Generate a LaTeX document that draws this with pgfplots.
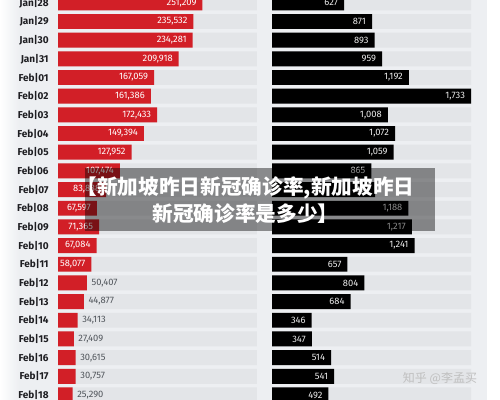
\documentclass[border=0pt]{standalone}
\usepackage{pgfplots}
\pgfplotsset{compat=1.18}
\usepackage{pgfplotstable}
\usepackage{fontspec}
\setmainfont{Fira Sans}
\newfontfamily\cjk{Noto Sans CJK SC}
\definecolor{panel}{HTML}{EDEFF2}
\definecolor{stripe}{HTML}{E3E5E8}
\definecolor{redc}{HTML}{D21F27}
\definecolor{labelc}{HTML}{1E1E22}
\definecolor{outc}{HTML}{50555B}

\pgfplotstableread{
idx lbg rbg
0 346000 1733
1 346000 1733
2 346000 1733
3 346000 1733
4 346000 1733
5 346000 1733
6 346000 1733
7 346000 1733
8 346000 1733
9 346000 1733
10 346000 1733
11 346000 1733
12 346000 1733
13 346000 1733
14 346000 1733
15 346000 1733
16 346000 1733
17 346000 1733
18 346000 1733
19 346000 1733
20 346000 1733
21 346000 1733
}\bg

\pgfplotsset{
  panelaxis/.style={
    scale only axis, width=149.25pt, height=300pt,
    ymin=-0.15, ymax=21.27, y dir=reverse,
    axis line style={draw=none}, major tick length=0pt,
    xtick=\empty,
    xbar, bar width=0.8, bar shift=0pt,
    /pgf/number format/.cd, fixed, precision=0, 1000 sep={,}, assume math mode=true,
    /pgfplots/.cd,
  },
  inlab/.style={nodes near coords, point meta=x,
    nodes near coords style={anchor=east, xshift=-1pt, text=#1, font=\fontsize{7}{8}\selectfont}},
  outlab/.style={nodes near coords, point meta=x,
    nodes near coords style={anchor=west, xshift=0pt, text=outc, font=\fontsize{7}{8}\selectfont}},
}

\begin{document}
\begin{tikzpicture}
\path[use as bounding box] (0,0) rectangle (375pt,300pt);
\fill[white] (0,0) rectangle (375pt,300pt);
\fill[panel] (14pt,0) rectangle (365.25pt,300pt);
\shade[left color=white, right color=panel] (0,0) rectangle (14pt,300pt);

% left panel: cases
\begin{axis}[panelaxis, at={(43.5pt,300pt)}, anchor=north west,
  xmin=0, xmax=346000,
  ytick={0,...,21},
  yticklabels={Jan|28,Jan|29,Jan|30,Jan|31,Feb|01,Feb|02,Feb|03,Feb|04,Feb|05,Feb|06,Feb|07,Feb|08,Feb|09,Feb|10,Feb|11,Feb|12,Feb|13,Feb|14,Feb|15,Feb|16,Feb|17,Feb|18},
  yticklabel style={font=\fontsize{7.5}{8}\selectfont\bfseries, text=labelc, xshift=-3.5pt},
]
\addplot[fill=stripe, draw=none] table[x=lbg, y=idx] {\bg};
\addplot[fill=redc, draw=none, inlab=white] coordinates {
(251209,0) (235532,1) (234281,2) (209918,3) (167059,4) (161386,5) (172433,6)
(149394,7) (127952,8) (107474,9) (83838,10) (67597,11) (71365,12) (67084,13) (58077,14)};
\addplot[fill=redc, draw=none, outlab] coordinates {
(50407,15) (44877,16) (34113,17) (27409,18) (30615,19) (30757,20) (25290,21)};
\end{axis}

% right panel: deaths
\begin{axis}[panelaxis, at={(204pt,300pt)}, anchor=north west,
  xmin=0, xmax=1733, ytick=\empty,
]
\addplot[fill=stripe, draw=none] table[x=rbg, y=idx] {\bg};
\addplot[fill=black, draw=none, inlab={black!8}] coordinates {
(627,0) (871,1) (893,2) (959,3) (1192,4) (1733,5) (1008,6) (1072,7) (1059,8) (865,9)
(897,10) (1188,11) (1217,12) (1241,13) (657,14) (804,15) (684,16) (346,17) (347,18)
(514,19) (541,20) (492,21)};
\end{axis}

% overlay banner
\fill[black, opacity=0.42] (63.75pt,174pt) rectangle (326.25pt,126.75pt);
\node[text=white, font=\cjk\bfseries\fontsize{15.5}{20.25}\selectfont, align=center, inner sep=0pt]
  at (184.2pt,149.6pt) {【新加坡昨日新冠确诊率,新加坡昨日\\新冠确诊率是多少】};

% watermark
\node[text=black!25, font=\cjk\fontsize{9}{10}\selectfont, inner sep=0pt] at (330pt,16.5pt) {知乎 @李孟买};
\end{tikzpicture}
\end{document}
